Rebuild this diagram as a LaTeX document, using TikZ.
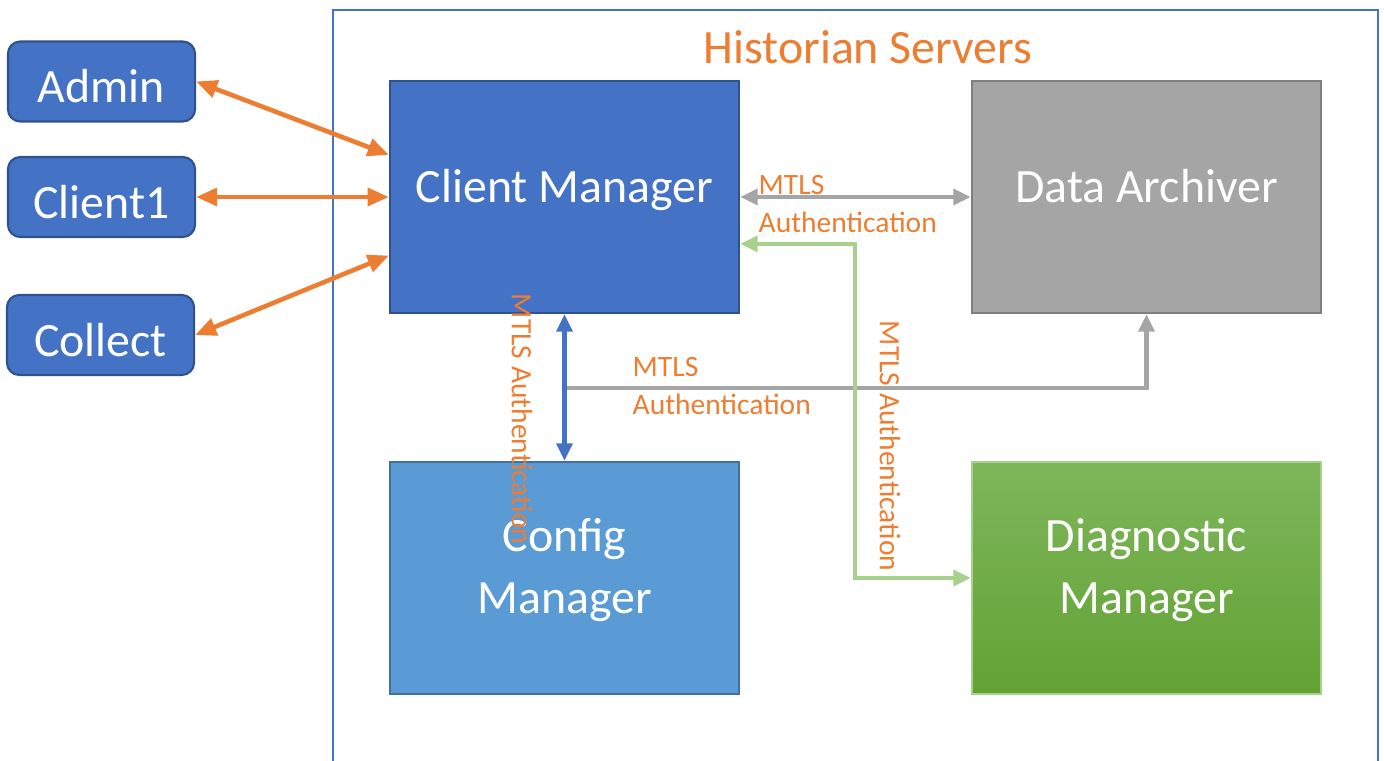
\documentclass[tikz,border=0pt]{standalone}
\usepackage{fontspec}
\setmainfont{Carlito}
\usetikzlibrary{arrows.meta,calc}
\definecolor{office-blue}{HTML}{4472C4}
\definecolor{office-blue-edge}{HTML}{2F528F}
\definecolor{office-lightblue}{HTML}{5B9BD5}
\definecolor{office-lightblue-edge}{HTML}{41719C}
\definecolor{office-gray}{HTML}{A5A5A5}
\definecolor{office-gray-edge}{HTML}{7F7F7F}
\definecolor{office-orange}{HTML}{ED7D31}
\definecolor{office-green}{HTML}{A9D18E}
\definecolor{diag-top}{HTML}{7EB65B}
\definecolor{diag-bottom}{HTML}{63A234}
\tikzset{
    client-box/.style = {draw=office-blue-edge, line width=0.6pt, fill=office-blue, rounded corners=3.5pt, text=white, minimum width=1.87cm, minimum height=0.8cm, inner sep=1pt, text height=15pt, text depth=3pt, font=\fontsize{13.6}{17.4}\selectfont},
    server-box/.style = {line width=0.6pt, minimum width=3.49cm, minimum height=2.32cm, text=white, align=center, font=\fontsize{13.6}{17.4}\selectfont},
    one-line/.style = {text height=10pt, text depth=7pt},
    two-line/.style = {text height=24pt, text depth=4pt},
    mtls-label/.style = {text=office-orange, font=\fontsize{8.4}{10.8}\selectfont, align=left, inner sep=0pt},
    orange-link/.style = {draw=office-orange, line width=1.3pt, {Triangle[length=6pt,width=5pt]}-{Triangle[length=6pt,width=5pt]}},
    gray-link/.style = {draw=office-gray, line width=1.15pt},
}

\begin{document}
\begin{tikzpicture}[x=0.01cm, y=-0.01cm]
\useasboundingbox (0,0) rectangle (1384,761);
% historian frame, open at the bottom
\draw[office-blue, line width=0.45pt] (333,770) -- (333,10) -- (1378,10) -- (1378,770);
\node[text=office-orange, font=\fontsize{13.6}{16}\selectfont] (title) at (868,47) {Historian Servers};

\node[client-box] (admin) at (101.5,81.5) {Admin};
\node[client-box] (client1) at (101.5,197) {Client1};
\node[client-box] (collect) at (100.5,335) {Collect};

\node[server-box, one-line, draw=office-blue-edge, fill=office-blue] (client-mgr) at (564.5,197) {Client Manager};
\node[server-box, one-line, draw=office-gray-edge, fill=office-gray] (archiver) at (1146.5,197) {Data Archiver};
\node[server-box, two-line, draw=office-lightblue-edge, fill=office-lightblue] (config-mgr) at (564.5,578) {Config\\Manager};
\node[server-box, two-line, draw=office-green, top color=diag-top, bottom color=diag-bottom] (diag-mgr) at (1146.5,578) {Diagnostic\\Manager};

% clients to the client manager
\draw[orange-link] (admin.east) -- ($(client-mgr.north west)!0.32!(client-mgr.south west)$);
\draw[orange-link] (client1.east) -- (client-mgr.west);
\draw[orange-link] (collect.east) -- ($(client-mgr.north west)!0.75!(client-mgr.south west)$);

% mtls links
\draw[gray-link, {Triangle[length=5pt,width=4.5pt]}-{Triangle[length=5pt,width=4.5pt]}] (client-mgr.east) -- (archiver.west);
\node[mtls-label, anchor=north west] (mtls-top) at (758,175) {MTLS\\Authentication};

\coordinate (tap) at (client-mgr.south |- 0,388);
\draw[gray-link, -{Triangle[length=5pt,width=4.5pt]}] (tap) -| (archiver.south);
\node[mtls-label, anchor=north west] (mtls-mid) at (632,357) {MTLS\\Authentication};

\draw[draw=office-blue, line width=1.15pt, {Triangle[length=5pt,width=4.5pt]}-{Triangle[length=5pt,width=4.5pt]}] (client-mgr.south) -- (config-mgr.north);
\node[mtls-label, rotate=-90] (mtls-config) at (522,419) {MTLS Authentication};

\coordinate (green-bend) at (855,578);
\draw[draw=office-green, line width=1.15pt, {Triangle[length=5pt,width=4.5pt]}-{Triangle[length=5pt,width=4.5pt]}] ($(client-mgr.north east)!0.7!(client-mgr.south east)$) -| (green-bend) -- (diag-mgr.west);
\node[mtls-label, rotate=-90] (mtls-diag) at (890,446) {MTLS Authentication};
\end{tikzpicture}
\end{document}
